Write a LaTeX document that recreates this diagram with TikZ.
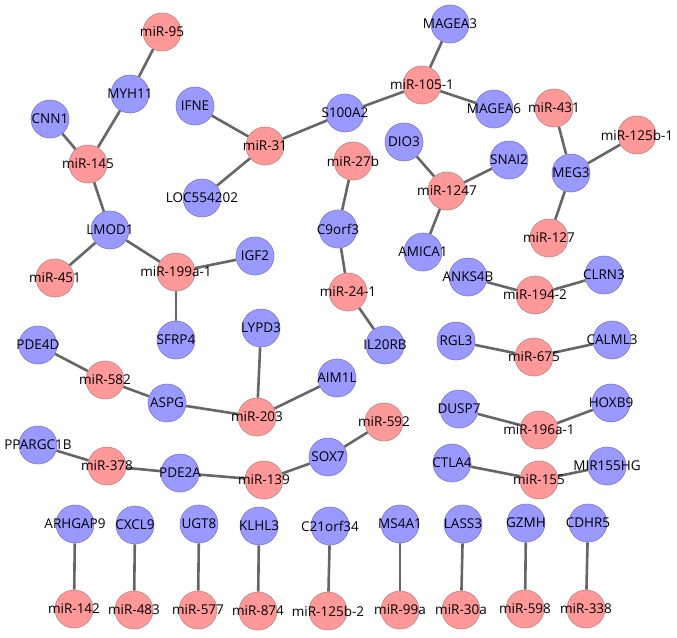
\documentclass[tikz,border=0pt]{standalone}
\usepackage{fontspec}
\setmainfont{Open Sans}
\usepackage{tikz}
\usetikzlibrary{backgrounds}
\definecolor{genefill}{RGB}{153,153,255}
\definecolor{genedraw}{RGB}{120,120,210}
\definecolor{mirfill}{RGB}{255,153,153}
\definecolor{mirdraw}{RGB}{190,130,130}
\definecolor{edgegray}{RGB}{102,102,102}
\tikzset{
	gene/.style={circle,fill=genefill,draw=genedraw,line width=0.6pt,minimum size=38pt,inner sep=0pt},
	mir/.style={circle,fill=mirfill,draw=mirdraw,line width=0.6pt,minimum size=38pt,inner sep=0pt},
	every label/.style={font=\fontsize{13.5}{16}\selectfont,inner sep=0pt},
	link/.style={draw=edgegray,line width=2.6pt}
}

\begin{document}
\begin{tikzpicture}[x=1pt,y=-1pt]
	\useasboundingbox (0,0) rectangle (677,637);
	\node[mir,label=center:miR-95] (mir95) at (162,32) {};
	\node[gene,label=center:MYH11] (myh11) at (130,94) {};
	\node[gene,label=center:CNN1] (cnn1) at (50,119) {};
	\node[mir,label=center:miR-145] (mir145) at (88,164) {};
	\node[gene,label=center:LMOD1] (lmod1) at (110,230) {};
	\node[mir,label=center:miR-451] (mir451) at (55,278) {};
	\node[mir,label=center:miR-199a-1] (mir199) at (176,272) {};
	\node[gene,label=center:IGF2] (igf2) at (255,256) {};
	\node[gene,label=center:SFRP4] (sfrp4) at (176,340) {};
	\node[gene,label=center:IFNE] (ifne) at (195,106) {};
	\node[mir,label=center:miR-31] (mir31) at (265,146) {};
	\node[gene,label=center:LOC554202] (loc) at (202,198) {};
	\node[gene,label=center:S100A2] (s100a2) at (345,113) {};
	\node[mir,label=center:miR-105-1] (mir105) at (422,85) {};
	\node[gene,label=center:MAGEA3] (magea3) at (450,24) {};
	\node[gene,label=center:MAGEA6] (magea6) at (494,109) {};
	\node[mir,label=center:miR-27b] (mir27b) at (353,161) {};
	\node[gene,label=center:C9orf3] (c9orf3) at (338,229) {};
	\node[mir,label=center:miR-24-1] (mir24) at (348,292) {};
	\node[gene,label=center:IL20RB] (il20rb) at (385,345) {};
	\node[gene,label=center:DIO3] (dio3) at (404,142) {};
	\node[gene,label=center:SNAI2] (snai2) at (509,160) {};
	\node[mir,label=center:miR-1247] (mir1247) at (447,191) {};
	\node[gene,label=center:AMICA1] (amica1) at (423,252) {};
	\node[mir,label=center:miR-431] (mir431) at (554,108) {};
	\node[mir,label=center:miR-125b-1] (mir125a) at (637,135) {};
	\node[gene,label=center:MEG3] (meg3) at (571,173) {};
	\node[mir,label=center:miR-127] (mir127) at (549,238) {};
	\node[gene,label=center:ANKS4B] (anks4b) at (468,277) {};
	\node[mir,label=center:miR-194-2] (mir194) at (535,295) {};
	\node[gene,label=center:CLRN3] (clrn3) at (604,275) {};
	\node[gene,label=center:RGL3] (rgl3) at (456,341) {};
	\node[mir,label=center:miR-675] (mir675) at (534,357) {};
	\node[gene,label=center:CALML3] (calml3) at (612,340) {};
	\node[gene,label=center:PDE4D] (pde4d) at (38,345) {};
	\node[mir,label=center:miR-582] (mir582) at (105,380) {};
	\node[gene,label=center:ASPG] (aspg) at (167,403) {};
	\node[mir,label=center:miR-203] (mir203) at (257,417) {};
	\node[gene,label=center:LYPD3] (lypd3) at (261,328) {};
	\node[gene,label=center:AIM1L] (aim1l) at (337,378) {};
	\node[gene,label=center:PPARGC1B] (ppargc1b) at (38,445) {};
	\node[mir,label=center:miR-378] (mir378) at (107,466) {};
	\node[gene,label=center:PDE2A] (pde2a) at (180,473) {};
	\node[mir,label=center:miR-139] (mir139) at (264,480) {};
	\node[gene,label=center:SOX7] (sox7) at (328,457) {};
	\node[mir,label=center:miR-592] (mir592) at (384,422) {};
	\node[gene,label=center:DUSP7] (dusp7) at (459,409) {};
	\node[mir,label=center:miR-196a-1] (mir196) at (539,430) {};
	\node[gene,label=center:HOXB9] (hoxb9) at (611,403) {};
	\node[gene,label=center:CTLA4] (ctla4) at (452,463) {};
	\node[mir,label=center:miR-155] (mir155) at (539,480) {};
	\node[gene,label=center:MIR155HG] (mir155hg) at (607,466) {};
	\node[gene,label=center:ARHGAP9] (arhgap9) at (75,524) {};
	\node[gene,label=center:CXCL9] (cxcl9) at (135,525) {};
	\node[gene,label=center:UGT8] (ugt8) at (199,524) {};
	\node[gene,label=center:KLHL3] (klhl3) at (259,526) {};
	\node[gene,label=center:C21orf34] (c21orf34) at (330,526) {};
	\node[gene,label=center:MS4A1] (ms4a1) at (400,524) {};
	\node[gene,label=center:LASS3] (lass3) at (463,524) {};
	\node[gene,label=center:GZMH] (gzmh) at (526,523) {};
	\node[gene,label=center:CDHR5] (cdhr5) at (588,523) {};
	\node[mir,label=center:miR-142] (mir142) at (74,609) {};
	\node[mir,label=center:miR-483] (mir483) at (134,610) {};
	\node[mir,label=center:miR-577] (mir577) at (198,610) {};
	\node[mir,label=center:miR-874] (mir874) at (258,611) {};
	\node[mir,label=center:miR-125b-2] (mir125b) at (328,611) {};
	\node[mir,label=center:miR-99a] (mir99a) at (400,610) {};
	\node[mir,label=center:miR-30a] (mir30a) at (461,610) {};
	\node[mir,label=center:miR-598] (mir598) at (525,609) {};
	\node[mir,label=center:miR-338] (mir338) at (586,609) {};
	\begin{scope}[on background layer]
	\draw[link] (mir95) -- (myh11) -- (mir145) -- (cnn1);
	\draw[link] (mir145) -- (lmod1) -- (mir451);
	\draw[link] (lmod1) -- (mir199) -- (igf2);
	\draw[link] (mir199) -- (sfrp4);
	\draw[link] (ifne) -- (mir31) -- (loc);
	\draw[link] (mir31) -- (s100a2) -- (mir105) -- (magea3);
	\draw[link] (mir105) -- (magea6);
	\draw[link] (mir27b) -- (c9orf3) -- (mir24) -- (il20rb);
	\draw[link] (dio3) -- (mir1247) -- (snai2);
	\draw[link] (mir1247) -- (amica1);
	\draw[link] (mir431) -- (meg3) -- (mir125a);
	\draw[link] (meg3) -- (mir127);
	\draw[link] (anks4b) -- (mir194) -- (clrn3);
	\draw[link] (rgl3) -- (mir675) -- (calml3);
	\draw[link] (pde4d) -- (mir582) -- (aspg) -- (mir203) -- (lypd3);
	\draw[link] (mir203) -- (aim1l);
	\draw[link] (ppargc1b) -- (mir378) -- (pde2a) -- (mir139) -- (sox7) -- (mir592);
	\draw[link] (dusp7) -- (mir196) -- (hoxb9);
	\draw[link] (ctla4) -- (mir155) -- (mir155hg);
	\draw[link] (arhgap9) -- (mir142);
	\draw[link] (cxcl9) -- (mir483);
	\draw[link] (ugt8) -- (mir577);
	\draw[link] (klhl3) -- (mir874);
	\draw[link] (c21orf34) -- (mir125b);
	\draw[link] (ms4a1) -- (mir99a);
	\draw[link] (lass3) -- (mir30a);
	\draw[link] (gzmh) -- (mir598);
	\draw[link] (cdhr5) -- (mir338);
	\end{scope}
\end{tikzpicture}
\end{document}
